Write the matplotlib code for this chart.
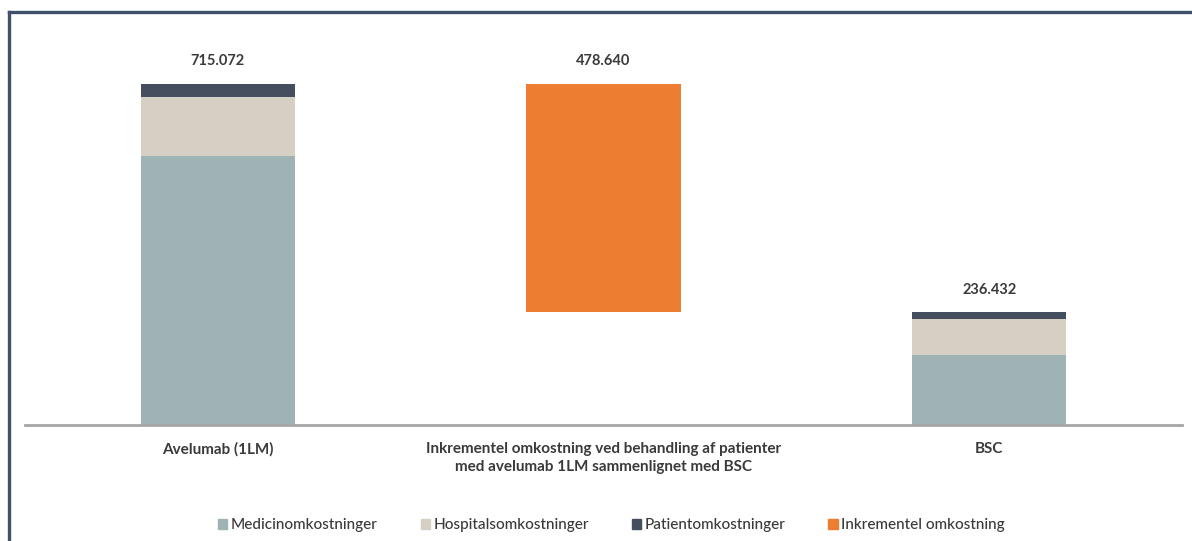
import matplotlib.pyplot as plt
from matplotlib.lines import Line2D
from matplotlib.patches import Patch

plt.rcParams['font.family'] = ['Lato', 'DejaVu Sans']

categories = ['Avelumab (1LM)',
              'Inkrementel omkostning ved behandling af patienter\nmed avelumab 1LM sammenlignet med BSC',
              'BSC']
# omkostninger i 1.000 DKK
medicin = [563.5, 146.3]
hospital = [124.0, 75.4]
patient = [27.572, 14.732]
totals = [715.072, 236.432]
incremental = 478.640

series_names = ['Medicinomkostninger', 'Hospitalsomkostninger',
                'Patientomkostninger', 'Inkrementel omkostning']
colors = ['#9fb3b4', '#d6d0c4', '#454e5e', '#ed7d31']
text_col = '#3a3a3a'

fig = plt.figure(figsize=(11.92, 5.41), dpi=100)
ax = fig.add_axes([0.021, 0.2144, 0.9706, 0.7394])

xs = [0, 2]
w = 0.4
ax.bar(xs, medicin, w, color=colors[0])
ax.bar(xs, hospital, w, bottom=medicin, color=colors[1])
bott = [m + h for m, h in zip(medicin, hospital)]
ax.bar(xs, patient, w, bottom=bott, color=colors[2])
# vandfaldsbar: fra BSC op til avelumab
ax.bar(1, incremental, w, bottom=totals[1], color=colors[3])

for x, top, val in [(0, totals[0], totals[0]), (1, totals[1] + incremental, incremental),
                    (2, totals[1], totals[1])]:
    ax.annotate(f'{val:.3f}', (x, top), xytext=(0, 11), textcoords='offset points',
                ha='center', va='bottom', fontsize=10.5, fontweight='bold', color=text_col)

ax.set_xlim(-0.5, 2.5)
ax.set_ylim(0, 838)
ax.set_yticks([])
ax.set_xticks(range(3))
ax.set_xticklabels(categories, fontsize=11, fontweight='bold', color=text_col,
                   linespacing=1.35)
ax.tick_params(axis='x', length=0, pad=12)
for s in ['top', 'right', 'left']:
    ax.spines[s].set_visible(False)
ax.spines['bottom'].set_color('#a6a6a6')
ax.spines['bottom'].set_linewidth(2)

handles = [Patch(color=c) for c in colors]
leg = fig.legend(handles, series_names, loc='center', bbox_to_anchor=(0.513, 0.029),
                 ncol=4, frameon=False, handlelength=0.6, handleheight=0.6,
                 handletextpad=0.25, columnspacing=2.8,
                 prop={'size': 11, 'weight': 'medium'})
for t in leg.get_texts():
    t.set_color(text_col)

# ramme omkring figuren
frame_col = '#3f5068'
fig.add_artist(Line2D([9 / 1192, 9 / 1192], [0, 1 - 12 / 541], transform=fig.transFigure,
                      color=frame_col, lw=2.4))
fig.add_artist(Line2D([9 / 1192, 1], [1 - 12 / 541, 1 - 12 / 541], transform=fig.transFigure,
                      color=frame_col, lw=2.4))

fig.savefig('out.png', dpi=100)
